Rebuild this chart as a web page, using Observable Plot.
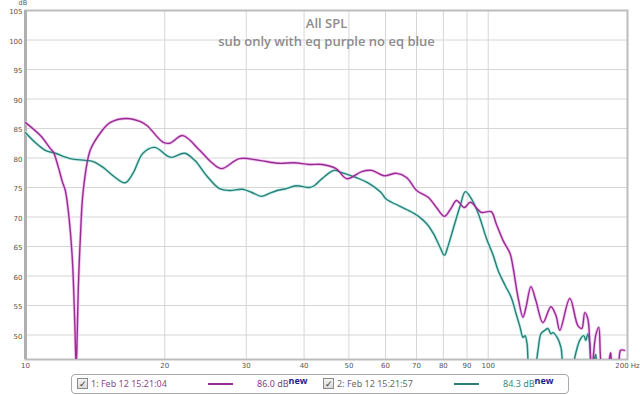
<!DOCTYPE html>
<html><head><meta charset="utf-8">
<script src="https://cdn.jsdelivr.net/npm/d3@7"></script>
<script src="https://cdn.jsdelivr.net/npm/@observablehq/plot@0.6"></script>
<style>
body{margin:0;background:#fff;width:640px;height:395px;overflow:hidden;position:relative;font-family:"Noto Sans",sans-serif;}
#legend{position:absolute;left:71px;top:374px;width:496px;height:18px;border:1px solid #a8a8a8;border-radius:4px;background:#fff;font-size:9px;}
#legend span,#legend div{position:absolute;white-space:nowrap;}
.cb{width:9px;height:9px;border:1px solid #8a8a8a;background:linear-gradient(#f4f4f4,#d8d8d8);top:3px;font-size:9px;line-height:9px;text-align:center;color:#333;}
.sw{height:2px;top:8px;width:25px;}
.txt{top:2px;line-height:14px;}
sup{font-weight:bold;color:#1c1c8c;font-size:9px;position:relative;top:-1px;vertical-align:top;line-height:9px;}
</style></head><body>
<div id="chart"></div>
<div id="legend"></div>
<script>
const purpleFreq = [10,10.77,11.32,11.49,11.77,12.01,12.19,12.37,12.62,12.78,12.87,12.94,13.0,13.13,13.33,13.8,14.5,15.23,16.57,17.67,18.3,19.81,20.5,21.87,23.79,25.37,26.53,29.0,32.0,35.35,38.08,41.03,43.74,46.9,49.5,53.3,56.0,59.5,63.4,66.6,70.0,74.3,77.3,80.4,83.3,85.4,88.8,91.5,96.6,101.5,104.0,107.7,111.5,113.2,116.0,118.9,120.7,123.7,126.8,131.3,136.6,140.1,142.8,150.1,156.2,159.3,161.7,164.1,165.7,167.3,170.7,173.3,176.7,180.3,183.9,185.8,190.4,193.2,197.0];
const purpleDb = [86.0,83.8,81.6,81.0,78.5,76.0,74.5,71.1,63.1,52.0,44.5,50.8,57.5,66.0,74.5,81.3,84.2,86.0,86.7,86.2,85.5,82.7,82.5,83.8,81.3,79.1,78.2,79.9,79.6,79.1,79.2,78.9,78.9,78.2,76.5,77.7,77.9,77.0,77.4,76.7,74.5,73.3,71.6,70.1,71.6,72.8,71.6,72.5,70.8,70.9,68.9,66.0,63.8,61.4,56.4,53.0,54.7,58.2,55.8,52.1,54.8,53.3,50.8,56.2,51.6,51.1,53.8,52.8,49.1,44,49.9,51.3,44,44,47.0,44,44,47.4,47.4];
const tealFreq = [10,10.51,11.04,11.6,12.5,13.46,14.0,14.72,15.46,16.41,17.07,17.94,19.04,20.2,20.71,22.08,23.21,24.63,26.27,27.6,29.43,30.78,32.34,33.65,35.0,36.6,38.45,41.03,42.05,43.75,46.42,48.3,51.76,55.21,58.59,60.06,61.86,67.3,70.71,73.56,76.15,78.86,80.4,81.61,84.08,87.06,89.24,91.93,95.17,99.01,102.5,105.1,108.8,112.1,114.9,117.2,118.9,120.1,121.3,123.1,125.6,128.1,130.0,132.6,134.6,136.6,138.0,141.4,143.6,146.4,150.9,154.7,157.7,160.9,162.5,164.1,165.7,167.3,170.7,172.4,175.0,181.2,190.4,197.0];
const tealDb = [84.3,82.6,81.3,80.8,79.9,79.6,79.4,78.4,77.0,75.8,77.4,80.8,81.8,80.4,80.1,80.8,79.6,77.0,74.8,74.5,74.7,74.2,73.5,74.0,74.5,74.8,75.3,75.0,75.3,76.5,77.9,77.5,76.7,75.7,74.2,73.1,72.5,71.1,70.1,68.9,67.2,64.7,63.5,64.7,68.1,72.0,74.3,73.1,70.6,66.5,63.5,60.9,58.4,56.4,53.6,51.3,49.6,49.9,48.6,44,44,47.4,50.2,50.8,51.1,50.2,50.4,49.4,47.9,44,44,47.0,49.1,49.9,49.1,50.2,48.6,44,46.7,44,44,44,44,44];
const xTicks = [10,20,30,40,50,60,70,80,90,100,200];
const yTicks = [50,55,60,65,70,75,80,85,90,95,100,105];
const seriesNames = ["1: Feb 12 15:21:04","2: Feb 12 15:21:57"];
const seriesLevels = ["86.0 dB","84.3 dB"];
const title = "All SPL";
const subtitle = "sub only with eq purple no eq blue";

const purple = purpleFreq.map((f,i)=>({f, db: purpleDb[i]}));
const teal = tealFreq.map((f,i)=>({f, db: tealDb[i]}));
const purpleCol = "#942f90", tealCol = "#2c7f77";

const chart = Plot.plot({
  width: 640, height: 372,
  marginLeft: 25, marginRight: 13, marginTop: 10, marginBottom: 13,
  style: {fontFamily: "DejaVu Sans, sans-serif", fontSize: "7px", color: "#555", background: "#fff"},
  x: {type: "log", domain: [10, 200], ticks: xTicks, tickFormat: d => d === 200 ? "200 Hz" : String(d), tickSize: 0, tickPadding: 4, label: null},
  y: {domain: [45.85, 105], label: null, axis: null},
  marks: [
    Plot.gridY(yTicks, {stroke: "#d6d6d6", strokeOpacity: 1, strokeWidth: 1}),
    Plot.gridX(xTicks, {stroke: "#d6d6d6", strokeOpacity: 1, strokeWidth: 1}),
    Plot.axisY(yTicks, {tickSize: 0, tickPadding: 3, dy: 1.5, label: null}),
    Plot.frame({stroke: "#bdbdbd", strokeWidth: 2}),
    Plot.ruleX([10], {stroke: "#b0b0b0", strokeWidth: 3}),
    Plot.text([title], {frameAnchor: "top", dy: 8, fontSize: 13, fontWeight: 600, fill: "#8c8c8c", fontFamily: "Open Sans", textAnchor: "middle"}),
    Plot.text([subtitle], {frameAnchor: "top", dy: 26, fontSize: 13, fontWeight: 600, fill: "#8c8c8c", fontFamily: "Open Sans", textAnchor: "middle"}),
    Plot.text(["dB"], {frameAnchor: "top-left", dx: -7, dy: -10, lineAnchor: "top", fontSize: 6.5, fill: "#555"}),
    Plot.line(teal, {x: "f", y: "db", stroke: "#bdeee8", strokeWidth: 3, curve: "catmull-rom", clip: true}),
    Plot.line(purple, {x: "f", y: "db", stroke: "#f7c0f5", strokeWidth: 3, curve: "catmull-rom", clip: true}),
    Plot.line(teal, {x: "f", y: "db", stroke: tealCol, strokeWidth: 1.4, curve: "catmull-rom", clip: true}),
    Plot.line(purple, {x: "f", y: "db", stroke: purpleCol, strokeWidth: 1.4, curve: "catmull-rom", clip: true})
  ]
});
document.getElementById("chart").append(chart);

const lg = document.getElementById("legend");
const cols = [purpleCol, tealCol];
const nameCols = ["#8a4a8a", "#6a6a6a"];
const levelCols = ["#8a3a8a", "#3a8a80"];
const offs = [0, 246];
seriesNames.forEach((n, i) => {
  const o = offs[i];
  const cb = document.createElement("div"); cb.className = "cb"; cb.style.left = (5 + o) + "px"; cb.textContent = "✓"; lg.append(cb);
  const t = document.createElement("span"); t.className = "txt"; t.style.left = (19 + o) + "px"; t.style.color = nameCols[i]; t.textContent = n; lg.append(t);
  const sw = document.createElement("div"); sw.className = "sw"; sw.style.left = (136 + o) + "px"; sw.style.background = cols[i]; lg.append(sw);
  const lv = document.createElement("span"); lv.className = "txt"; lv.style.left = (185 + o) + "px"; lv.style.color = levelCols[i];
  lv.innerHTML = seriesLevels[i] + "<sup>new</sup>"; lg.append(lv);
});
</script>
</body></html>
